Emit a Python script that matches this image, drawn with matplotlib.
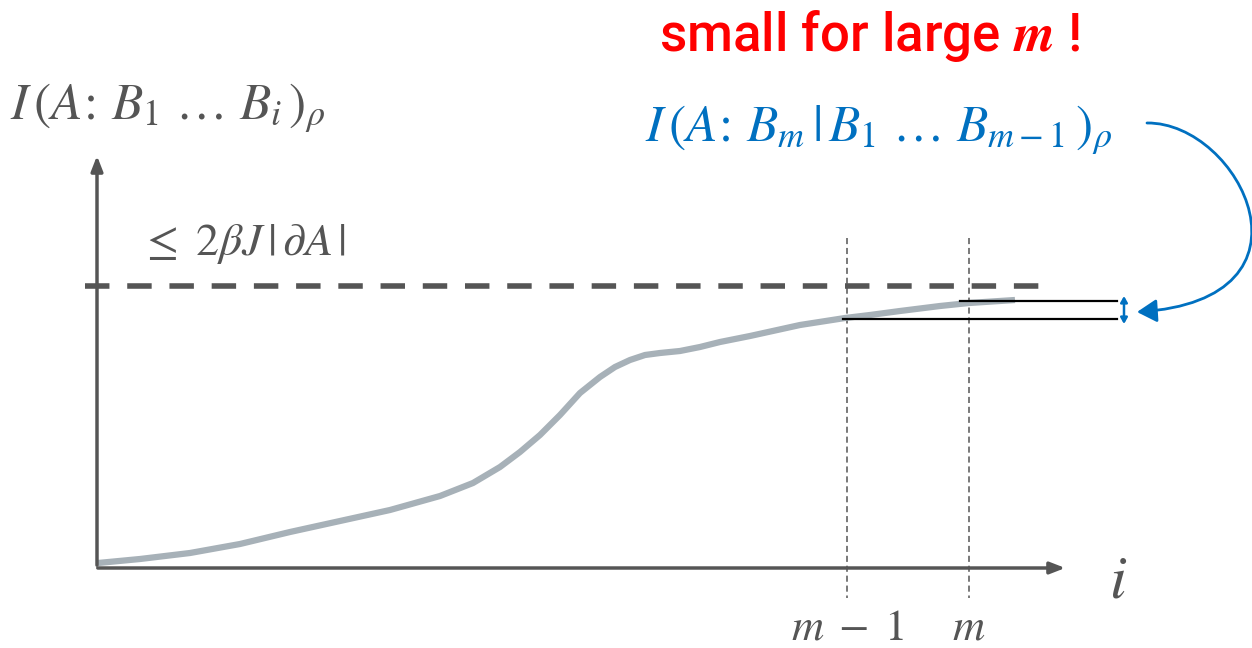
import numpy as np
import matplotlib.pyplot as plt
from matplotlib.patches import FancyArrowPatch
from matplotlib.path import Path

plt.rcParams['mathtext.fontset'] = 'stix'

# Curva de informacion mutua (coordenadas en pixeles del lienzo)
curva_x = [98, 140, 190, 240, 290, 340, 390, 440, 473, 500, 520, 540, 560, 580, 600, 615,
           630, 645, 660, 680, 700, 720, 750, 800, 845, 870, 900, 940, 969, 1015]
curva_y = [563, 559, 553, 544, 532, 521, 510, 496, 483, 467, 452, 435, 415, 393, 377, 367,
           360, 355, 353, 351, 347, 342, 336, 325, 318, 315, 311, 306, 303, 300]

cota_y = 286
x_m1 = 847
x_m = 969
etiquetas = [r'$m\;-\;1$', r'$m$']

gris = '#555555'
azul = '#0070C0'

fig = plt.figure(figsize=(12.52, 6.48), dpi=100)
ax = fig.add_axes([0, 0, 1, 1])
ax.set_xlim(0, 1252)
ax.set_ylim(648, 0)
ax.axis('off')

# Ejes con flecha
ax.annotate('', xy=(97, 153), xytext=(97, 568),
            arrowprops=dict(arrowstyle='-|>,head_length=0.9,head_width=0.35', color=gris, lw=2.5))
ax.annotate('', xy=(1068, 568), xytext=(95, 568),
            arrowprops=dict(arrowstyle='-|>,head_length=0.9,head_width=0.35', color=gris, lw=2.5))

# Cota superior
ax.plot([85, 1045], [cota_y, cota_y], color=gris, lw=4, dashes=(4.4, 3.2))

# Lineas verticales en m-1 y m
for xv, lab in zip([x_m1, x_m], etiquetas):
    ax.plot([xv, xv], [238, 598], color=gris, lw=1.1, dashes=(4, 2.5))
    ax.text(xv, 640, lab, fontsize=32, color=gris, ha='center', va='baseline')

ax.plot(curva_x, curva_y, color='#A7B1B8', lw=4.5, solid_capstyle='butt', solid_joinstyle='round')

# Diferencia entre m-1 y m
ax.plot([960, 1117], [301, 301], color='black', lw=1.6)
ax.plot([843, 1117], [319, 319], color='black', lw=1.6)
ax.annotate('', xy=(1124, 296), xytext=(1124, 324),
            arrowprops=dict(arrowstyle='<|-|>,head_length=0.35,head_width=0.2', color=azul, lw=1.8,
                            shrinkA=0, shrinkB=0))

# Flecha curva desde la etiqueta azul
arco = Path([(1147, 123), (1240, 122), (1330, 300), (1137, 312)],
            [Path.MOVETO, Path.CURVE4, Path.CURVE4, Path.CURVE4])
ax.add_patch(FancyArrowPatch(path=arco, arrowstyle='-|>,head_length=12,head_width=7',
                             color=azul, lw=2, transform=ax.transData))

# Textos
ax.text(10, 108, r'$I\,(A\!:\,B_1\ \ldots\ B_i\,)_\rho$', fontsize=37, color=gris,
        ha='left', va='center')
ax.text(140, 244, r'$\leq\ 2\beta J\,|\,\partial A\,|$', fontsize=33, color=gris,
        ha='left', va='center')
ax.text(1118, 598, r'$i$', fontsize=44, color=gris, ha='center', va='baseline')
ax.text(645, 130, r'$I\,(A\!:\,B_m\,|\,B_1\ \ldots\ B_{m-1}\,)_\rho$', fontsize=37, color=azul,
        ha='left', va='center')
ax.text(870, 36, r'small for large $\mathbfit{m}$ !', fontsize=38, color='#FF0000', ha='center',
        va='center', family='Roboto', weight='medium')

fig.savefig('out.png', dpi=100)
